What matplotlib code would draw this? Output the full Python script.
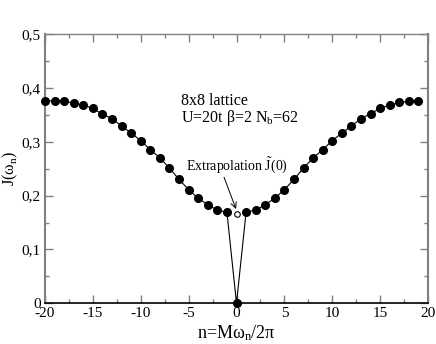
#!/usr/bin/env python3

import matplotlib
matplotlib.use("Agg")
import matplotlib.pyplot as plt
from matplotlib.ticker import MultipleLocator, FuncFormatter

# Data.
n_values = list(range(-20, 20))
j_values = [0.376, 0.376, 0.375, 0.372, 0.368, 0.362, 0.351, 0.343, 0.329, 0.316,
            0.302, 0.285, 0.270, 0.251, 0.230, 0.211, 0.195, 0.183, 0.173, 0.169,
            0.000,
            0.169, 0.173, 0.183, 0.195, 0.211, 0.230, 0.251, 0.270, 0.285, 0.302,
            0.316, 0.329, 0.343, 0.352, 0.362, 0.368, 0.373, 0.375, 0.376]
extrap_n = 0
extrap_j = 0.165

plt.rcParams['font.family'] = ['Liberation Serif', 'DejaVu Serif']
plt.rcParams['mathtext.fontset'] = 'custom'
plt.rcParams['mathtext.rm'] = 'Liberation Serif'
plt.rcParams['mathtext.it'] = 'Liberation Serif'
plt.rcParams['mathtext.bf'] = 'Liberation Serif:bold'

fig = plt.figure(figsize=(4.36, 3.44), dpi=100)
ax = fig.add_axes([45 / 436, 1 - 303.3 / 344, 383 / 436, 269.3 / 344])

# Main curve with filled dots.
ax.plot(n_values, j_values, color='black', lw=0.8, marker='o', ms=5.5,
        markerfacecolor='black', markeredgecolor='black', clip_on=False, zorder=3)

# Extrapolated value J(0), open circle.
ax.plot([extrap_n], [extrap_j], marker='o', ms=4, markerfacecolor='white',
        markeredgecolor='black', markeredgewidth=0.8, linestyle='none', zorder=4)

ax.set_xlim(-20, 20)
ax.set_ylim(0, 0.5)

ax.xaxis.set_major_locator(MultipleLocator(5))
ax.xaxis.set_minor_locator(MultipleLocator(2.5))
ax.yaxis.set_major_locator(MultipleLocator(0.1))
ax.yaxis.set_minor_locator(MultipleLocator(0.05))

ax.xaxis.set_major_formatter(FuncFormatter(lambda v, p: '%d' % v))
ax.yaxis.set_major_formatter(
    FuncFormatter(lambda v, p: '0' if abs(v) < 1e-9 else ('%.1f' % v).replace('.', ',')))

ax.tick_params(which='both', direction='in', top=True, right=True,
               labelsize=11, pad=3)
ax.tick_params(which='major', length=6, width=1, color='#808080')
ax.tick_params(which='minor', length=3, width=1, color='#808080')

for side in ['left', 'right']:
    ax.spines[side].set_color('#808080')
    ax.spines[side].set_linewidth(1.5)
ax.spines['top'].set_color('#808080')
ax.spines['top'].set_linewidth(1.0)
ax.spines['bottom'].set_color('black')
ax.spines['bottom'].set_linewidth(1.2)

ax.set_xlabel(r'n=M$\omega_{\rm n}$/2$\pi$', fontsize=13, labelpad=2)
ax.set_ylabel(r'$\tilde{\rm J}$($\omega_{\rm n}$)', fontsize=11.5)
ax.yaxis.set_label_coords(-0.062, 0.5)

ax.text(-5.8, 0.369, '8x8 lattice', fontsize=11.5)
ax.text(-5.8, 0.336, r'U=20t $\beta$=2 N$_{\rm b}$=62', fontsize=11.5)

ax.text(0.1, 0.257, r'Extrapolation $\tilde{\rm J}$(0)', fontsize=10,
        ha='center', va='center')
ax.annotate('', xy=(-0.05, 0.175), xytext=(-1.3, 0.234),
            arrowprops=dict(arrowstyle='->', color='black', lw=0.7,
                            shrinkA=0, shrinkB=0))

fig.savefig('out.png', dpi=100)
